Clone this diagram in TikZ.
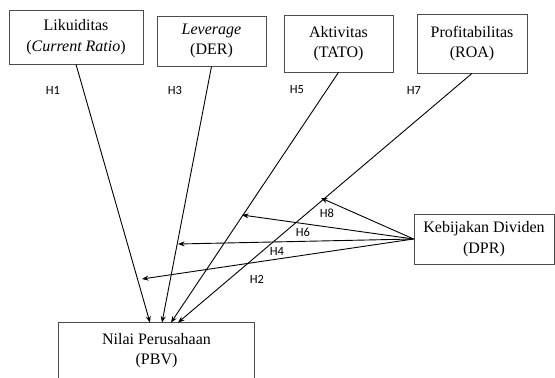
\documentclass[tikz,border=0pt]{standalone}
\usepackage{fontspec}
\setmainfont{Liberation Serif}
\newfontfamily\lblfont{Carlito}
\usetikzlibrary{arrows.meta}
\begin{document}
\begin{tikzpicture}[x=1pt,y=-1pt,
  box/.style={draw=black!70, line width=0.8pt, align=center, inner sep=0pt,
    font=\fontsize{16}{20.5}\selectfont},
  conn/.style={line width=0.9pt, -{Stealth[length=6.5pt,width=5pt]}},
  hlbl/.style={font=\lblfont\fontsize{12.5}{14}\selectfont, inner sep=0pt, text=black}]
\useasboundingbox (0,0) rectangle (555,378);

% boxes
\node[box, minimum width=134pt, minimum height=54pt] (liq) at (76,37) {Likuiditas\\(\textit{Current Ratio})};
\node[box, minimum width=109pt, minimum height=50pt] (lev) at (211.5,41) {\textit{Leverage}\\(DER)};
\node[box, minimum width=109pt, minimum height=57pt] (akt) at (338.5,43.5) {Aktivitas\\(TATO)};
\node[box, minimum width=110pt, minimum height=59pt] (prof) at (472,43.5) {Profitabilitas\\(ROA)};
\node[box, minimum width=140pt, minimum height=50pt] (dpr) at (484,239) {Kebijakan Dividen\\(DPR)};
\node[box, draw=none, minimum width=195pt, minimum height=55pt] (pbv) at (156.5,350.5) {Nilai Perusahaan\\(PBV)};
\draw[draw=black!70, line width=0.8pt] ([yshift=-12pt]pbv.south west) -- (pbv.north west) -- (pbv.north east) -- ([yshift=-12pt]pbv.south east);

% end points on the target box
\coordinate (e1) at ([xshift=-6.5pt]pbv.north);
\coordinate (e3) at ([xshift=5.5pt]pbv.north);
\coordinate (e5) at ([xshift=14.5pt]pbv.north);
\coordinate (e7) at ([xshift=21.5pt]pbv.north);

% moderation targets on the direct paths
\coordinate (m8) at (321,198);
\coordinate (m6) at (242,215);
\coordinate (m4) at (178,244);
\coordinate (m2) at (142,279);

% direct paths
\draw[conn] (liq.south) -- (e1);
\draw[conn] (lev.south) -- (e3);
\draw[conn] (akt.south) -- (e5);
\draw[conn] (prof.south) -- (e7);

% moderation paths
\draw[conn] (dpr.west) -- (m8);
\draw[conn] (dpr.west) -- (m6);
\draw[conn] (dpr.west) -- (m4);
\draw[conn] (dpr.west) -- (m2);

% labels
\node[hlbl] (l1) at (53,90) {H1};
\node[hlbl] (l3) at (175,90) {H3};
\node[hlbl] (l5) at (297,90) {H5};
\node[hlbl] (l7) at (414,90) {H7};
\node[hlbl] (l8) at (327,213) {H8};
\node[hlbl] (l6) at (303,232) {H6};
\node[hlbl] (l4) at (277,251) {H4};
\node[hlbl] (l2) at (257,279) {H2};
\end{tikzpicture}
\end{document}
